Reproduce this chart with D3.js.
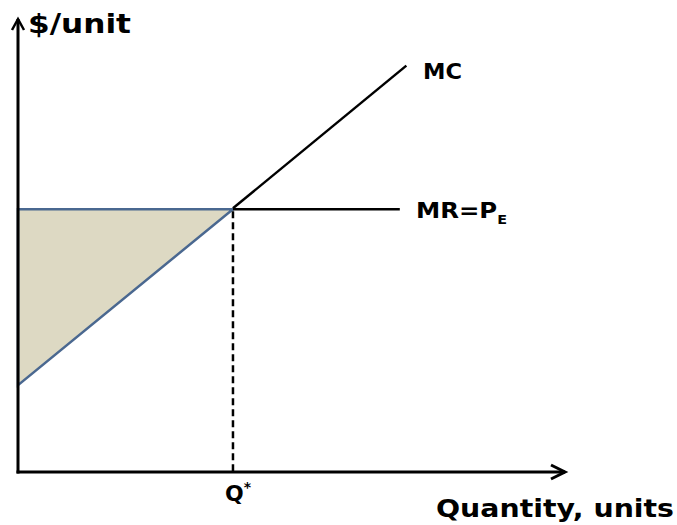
<!DOCTYPE html>
<html>
<head>
<meta charset="utf-8">
<script src="https://d3js.org/d3.v7.min.js"></script>
<style>
  body { margin: 0; background: #fff; }
  text { font-family: "DejaVu Sans", Verdana, sans-serif; font-weight: bold; fill: #000; }
</style>
</head>
<body>
<div id="chart"></div>
<script>
// values (abstract units, 0-100 on both axes)
const qStar = 39.3;          // Q*
const priceE = 58.4;         // MR = P_E
const mcQ = [0, 71];         // MC line, quantity
const mcP = [19.3, 90.3];    // MC line, $/unit
const mrQ = [0, 69.8];       // MR line extent
const labels = ["$/unit", "Quantity, units", "MC", "MR=P", "E", "Q", "*"];

const w = 677, h = 525;
const svg = d3.select("#chart").append("svg")
  .attr("width", w).attr("height", h);

const x = d3.scaleLinear().domain([0, 100]).range([18, 565]);
const y = d3.scaleLinear().domain([0, 100]).range([472, 22]);

// shaded producer surplus triangle
const tri = [[0, priceE], [qStar, priceE], [0, mcP[0]]];
svg.append("path")
  .attr("d", d3.line().x(d => x(d[0])).y(d => y(d[1]))(tri) + "Z")
  .attr("fill", "#ddd9c3")
  .attr("stroke", "#4a6890")
  .attr("stroke-width", 2.5);

// MC line beyond the triangle
svg.append("line")
  .attr("x1", x(qStar)).attr("y1", y(mcP[0] + (mcP[1] - mcP[0]) * qStar / mcQ[1]))
  .attr("x2", x(mcQ[1])).attr("y2", y(mcP[1]))
  .attr("stroke", "#000").attr("stroke-width", 2.5);

// MR line beyond Q*
svg.append("line")
  .attr("x1", x(qStar)).attr("y1", y(priceE))
  .attr("x2", x(mrQ[1])).attr("y2", y(priceE))
  .attr("stroke", "#000").attr("stroke-width", 2.5);

// dashed line down to Q*
svg.append("line")
  .attr("x1", x(qStar)).attr("y1", y(priceE) + 2)
  .attr("x2", x(qStar)).attr("y2", y(0))
  .attr("stroke", "#000").attr("stroke-width", 2.5)
  .attr("stroke-dasharray", "7,4");

// axes
svg.append("line") // y axis
  .attr("x1", x(0)).attr("y1", y(0) + 1.5)
  .attr("x2", x(0)).attr("y2", y(100) - 3)
  .attr("stroke", "#000").attr("stroke-width", 3);
svg.append("line") // x axis
  .attr("x1", x(0) - 1.5).attr("y1", y(0))
  .attr("x2", x(100)).attr("y2", y(0))
  .attr("stroke", "#000").attr("stroke-width", 3);

// open arrowheads
svg.append("path")
  .attr("d", `M${x(0) - 6},${y(100) + 8} L${x(0)},${y(100) - 3} L${x(0) + 6},${y(100) + 8}`)
  .attr("fill", "none").attr("stroke", "#000").attr("stroke-width", 2.5);
svg.append("path")
  .attr("d", `M${x(100) - 14},${y(0) - 7} L${x(100)},${y(0)} L${x(100) - 14},${y(0) + 7}`)
  .attr("fill", "none").attr("stroke", "#000").attr("stroke-width", 3);

// labels (stretched to the wider Verdana widths of the original)
svg.append("text").attr("x", 28).attr("y", 33)
  .attr("textLength", 103).attr("lengthAdjust", "spacingAndGlyphs")
  .style("font-size", "26px").text(labels[0]);

svg.append("text").attr("x", 436).attr("y", 517)
  .attr("textLength", 238).attr("lengthAdjust", "spacingAndGlyphs")
  .style("font-size", "25px").text(labels[1]);

svg.append("text").attr("x", 423).attr("y", 79)
  .attr("textLength", 39).attr("lengthAdjust", "spacingAndGlyphs")
  .style("font-size", "22px").text(labels[2]);

const mr = svg.append("text").attr("x", 416).attr("y", 218)
  .attr("textLength", 91).attr("lengthAdjust", "spacingAndGlyphs")
  .style("font-size", "22px");
mr.append("tspan").text(labels[3]);
mr.append("tspan").attr("dy", 6).style("font-size", "13px").text(labels[4]);

const q = svg.append("text").attr("x", x(qStar) - 8).attr("y", 501)
  .style("font-size", "22px");
q.append("tspan").text(labels[5]);
q.append("tspan").attr("dy", -9).style("font-size", "14px").text(labels[6]);
</script>
</body>
</html>
